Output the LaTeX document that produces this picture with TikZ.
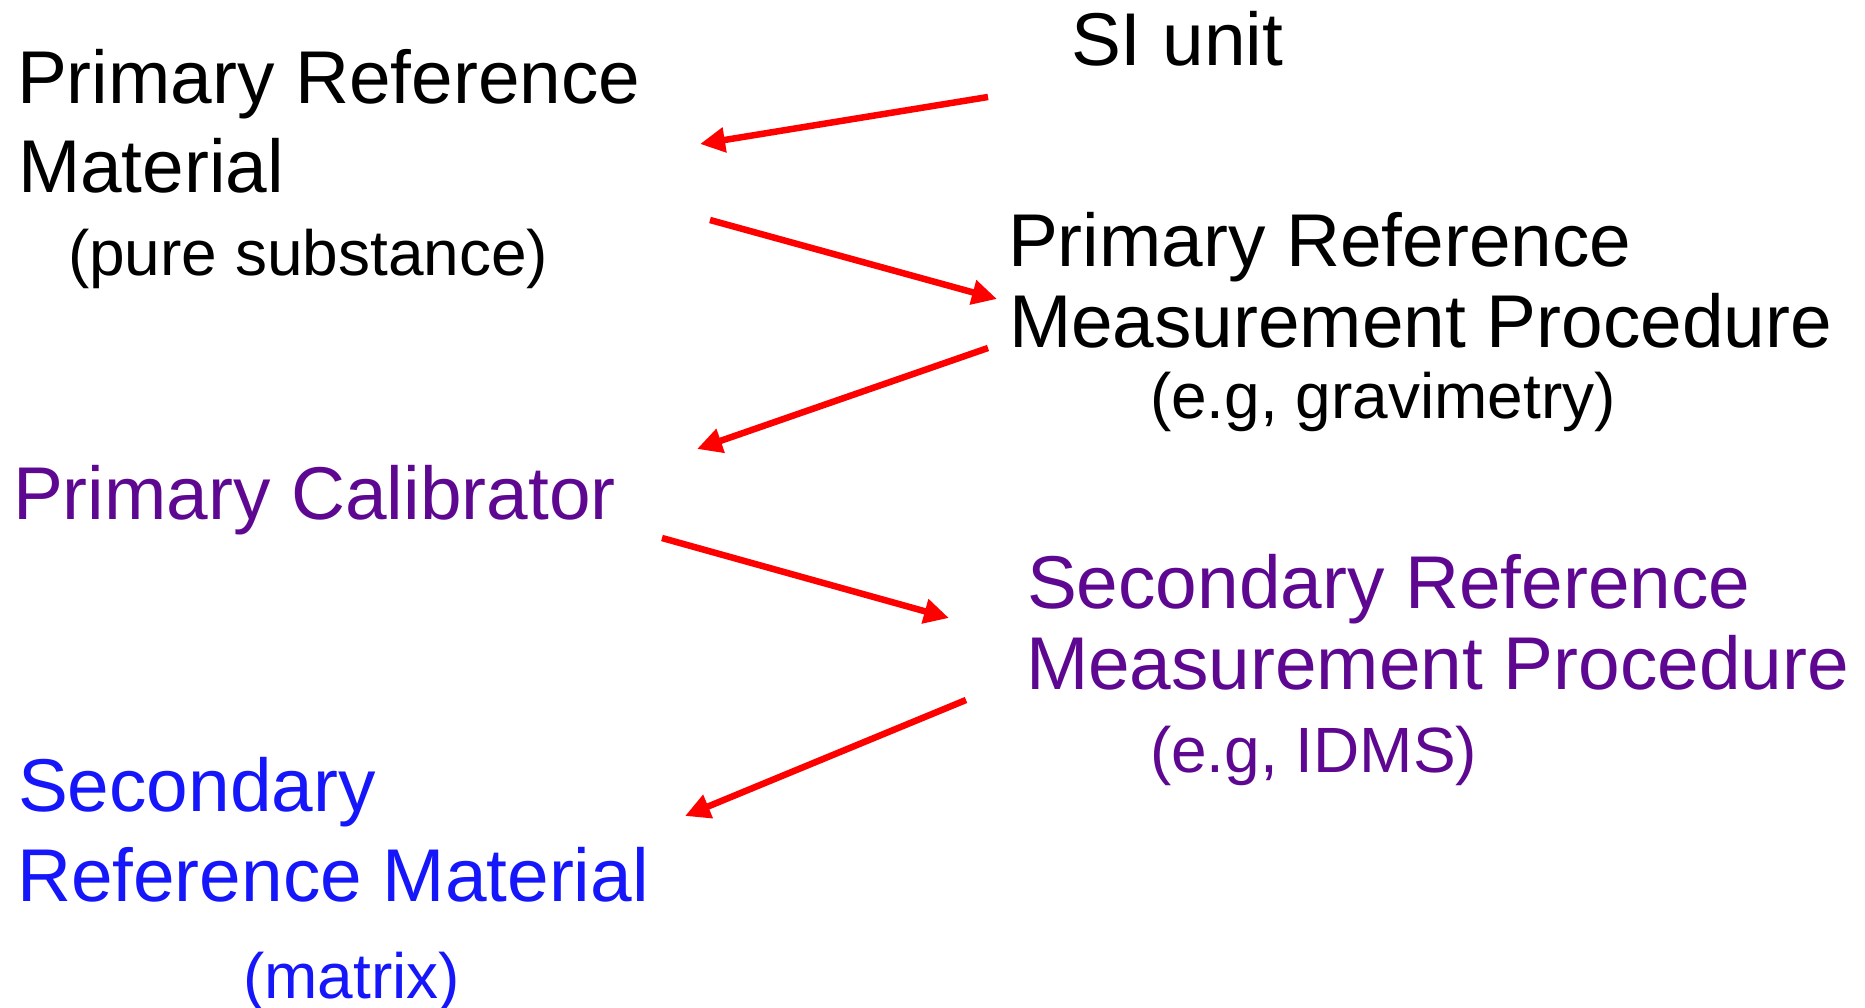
\documentclass[tikz,border=0pt]{standalone}
\usepackage{fontspec}
\setmainfont{Liberation Sans}
\usetikzlibrary{arrows.meta}
\definecolor{calpurple}{RGB}{94,8,146}
\definecolor{srmblue}{RGB}{22,22,250}
\definecolor{arrred}{RGB}{255,0,0}
\tikzset{
  big/.style={anchor=base west, inner sep=0pt, outer sep=0pt, align=left,
    font=\fontsize{74.8}{89}\selectfont},
  small/.style={anchor=base west, inner sep=0pt, outer sep=0pt,
    font=\fontsize{64}{76}\selectfont},
  redarrow/.style={draw=arrred, line width=6.5pt,
    -{Triangle[length=25pt,width=24pt]}}
}
\begin{document}
\begin{tikzpicture}[x=1pt,y=-1pt]
\useasboundingbox (0,0) rectangle (1865,1008);
% texts
\node[big] (si) at (1071,66) {SI unit};
\node[big] (prm1) at (17,104) {Primary Reference};
\node[big] (prm2) at (18,193) {Material};
\node[small] (prmsub) at (68,276) {(pure substance)};
\node[big] (prmp1) at (1008,266) {Primary Reference};
\node[big] (prmp2) at (1009,347) {Measurement Procedure};
\node[small] (prmpsub) at (1150,418) {(e.g, gravimetry)};
\node[big, text=calpurple] (pc) at (13,519) {Primary Calibrator};
\node[big, text=calpurple] (srmp1) at (1027,608) {Secondary Reference};
\node[big, text=calpurple] (srmp2) at (1026,689) {Measurement Procedure};
\node[small, text=calpurple] (srmpsub) at (1150,772) {(e.g, IDMS)};
\node[big, text=srmblue] (srm1) at (18,811) {Secondary};
\node[big, text=srmblue] (srm2) at (17,901) {Reference Material};
\node[small, text=srmblue] (srmsub) at (243,998) {(matrix)};
% arrow end points
\coordinate (a1s) at (988,97);
\coordinate (a1e) at (700,144);
\coordinate (a2s) at (710,220);
\coordinate (a2e) at (997,299);
\coordinate (a3s) at (988,348);
\coordinate (a3e) at (697,449);
\coordinate (a4s) at (662,538);
\coordinate (a4e) at (949,618);
\coordinate (a5s) at (966,700);
\coordinate (a5e) at (685,816);
\draw[redarrow] (a1s) -- (a1e);
\draw[redarrow] (a2s) -- (a2e);
\draw[redarrow] (a3s) -- (a3e);
\draw[redarrow] (a4s) -- (a4e);
\draw[redarrow] (a5s) -- (a5e);
\end{tikzpicture}
\end{document}
